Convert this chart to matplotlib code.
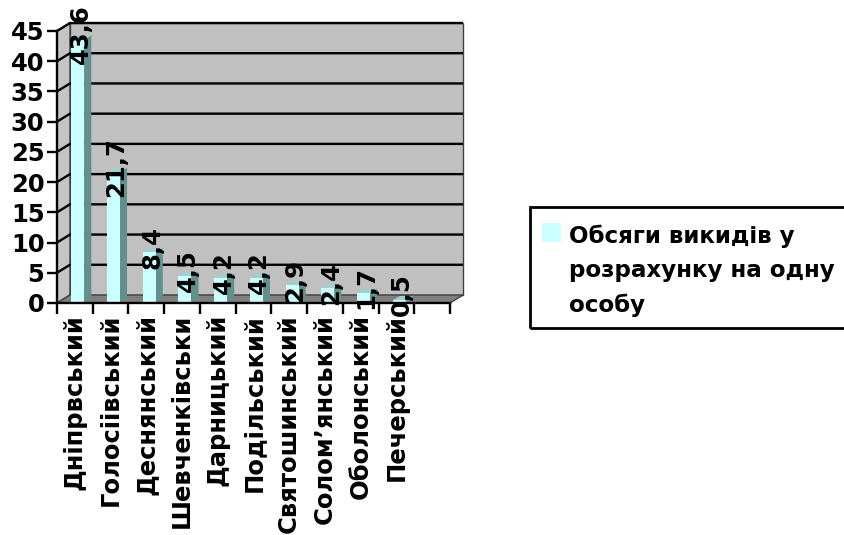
import matplotlib.pyplot as plt
from matplotlib.patches import Polygon, Rectangle

districts = ['Дніпрвський', 'Голосіівський', 'Деснянський', 'Шевченківськи',
             'Дарницький', 'Подільський', 'Святошинський', 'Солом’янський',
             'Оболонський', 'Печерський', '']
values = [43.6, 21.7, 8.4, 4.5, 4.2, 4.2, 2.9, 2.4, 1.7, 0.5]
value_labels = ['43,6', '21,7', '8,4', '4,5', '4,2', '4,2', '2,9', '2,4', '1,7', '0,5']
legend_lines = ['Обсяги викидів у', 'розрахунку на одну', 'особу']

plt.rcParams['font.family'] = 'DejaVu Sans'
plt.rcParams['font.weight'] = 'bold'

W, H = 844, 535
fig = plt.figure(figsize=(W / 100, H / 100), dpi=100)
ax = fig.add_axes([57 / W, (H - 303) / H, 393 / W, 272 / H])
n = len(districts)
ymax = 45
ax.set_xlim(-0.5, n - 0.5)
ax.set_ylim(0, ymax)
ax.patch.set_visible(False)

# depth of the 3d box in data units (13 px right, 8 px up)
DX = 13 / (393 / n)
DY = 8 / (272 / ymax)
BDX, BDY = DX * 0.55, DY * 0.5

x0, x1 = -0.5, n - 0.5
edge = '#404040'
# left side wall
ax.add_patch(Polygon([(x0, 0), (x0 + DX, DY), (x0 + DX, ymax + DY), (x0, ymax)],
                     closed=True, fc='#c4c4c4', ec=edge, lw=1, clip_on=False, zorder=1))
# back wall
ax.add_patch(Rectangle((x0 + DX, DY), x1 - x0, ymax, fc='#c0c0c0', ec=edge, lw=1,
                       clip_on=False, zorder=1))
# floor
ax.add_patch(Polygon([(x0, 0), (x1, 0), (x1 + DX, DY), (x0 + DX, DY)],
                     closed=True, fc='#808080', ec=edge, lw=1, clip_on=False, zorder=2))

# gridlines on side wall and back wall
for g in range(5, ymax + 1, 5):
    ax.plot([x0, x0 + DX, x1 + DX], [g, g + DY, g + DY], color='black', lw=1.7,
            clip_on=False, zorder=3, solid_capstyle='butt')

# bars: front face + side + top
shift, bw = 0.08, 0.36
for i, v in enumerate(values):
    l = i + shift - bw / 2
    r = i + shift + bw / 2
    ax.add_patch(Polygon([(r, 0), (r + BDX, BDY), (r + BDX, v + BDY), (r, v)],
                         closed=True, fc='#638f8c', ec='none', clip_on=False, zorder=4))
    ax.add_patch(Polygon([(l, v), (r, v), (r + BDX, v + BDY), (l + BDX, v + BDY)],
                         closed=True, fc='#9fcfcf', ec='none', clip_on=False, zorder=4))
ax.bar([i + shift for i in range(len(values))], values, width=bw, color='#ccffff',
       zorder=5, clip_on=False)

# value labels
for i, (v, t) in enumerate(zip(values, value_labels)):
    ax.annotate(t, (i + shift, v), xytext=(3, 5), textcoords='offset pixels',
                rotation=90, ha='center', va='center', fontsize=17.5,
                fontweight='bold', zorder=10, annotation_clip=False)

for s in ['top', 'right']:
    ax.spines[s].set_visible(False)
for s in ['left', 'bottom']:
    ax.spines[s].set_linewidth(1.7)
    ax.spines[s].set_zorder(6)

ax.set_yticks(range(0, ymax + 1, 5))
ax.tick_params(axis='y', labelsize=17.5, length=7, width=1.7, pad=2)
ax.set_xticks([i - 0.5 for i in range(n + 1)])
ax.set_xticklabels([])
ax.set_xticks(range(n), minor=True)
ax.set_xticklabels(districts, minor=True, rotation=90, fontsize=17.5, va='top')
ax.tick_params(axis='x', which='major', length=8, width=1.7)
ax.tick_params(axis='x', which='minor', length=0, pad=8)
for lab in ax.get_yticklabels() + ax.get_xticklabels(minor=True):
    lab.set_fontweight('bold')

# legend
fig.patches.append(Rectangle((530 / W, 1 - 328 / H), 330 / W, 121 / H, fill=False,
                             ec='black', lw=2, transform=fig.transFigure))
fig.patches.append(Rectangle((542 / W, 1 - 242 / H), 19 / W, 19 / H, fc='#ccffff',
                             ec='none', transform=fig.transFigure))
for line, base in zip(legend_lines, [243, 277, 312]):
    fig.text(569 / W, 1 - base / H, line, ha='left', va='baseline', fontsize=16.6,
             fontweight='bold')

fig.savefig('out.png', dpi=100)
